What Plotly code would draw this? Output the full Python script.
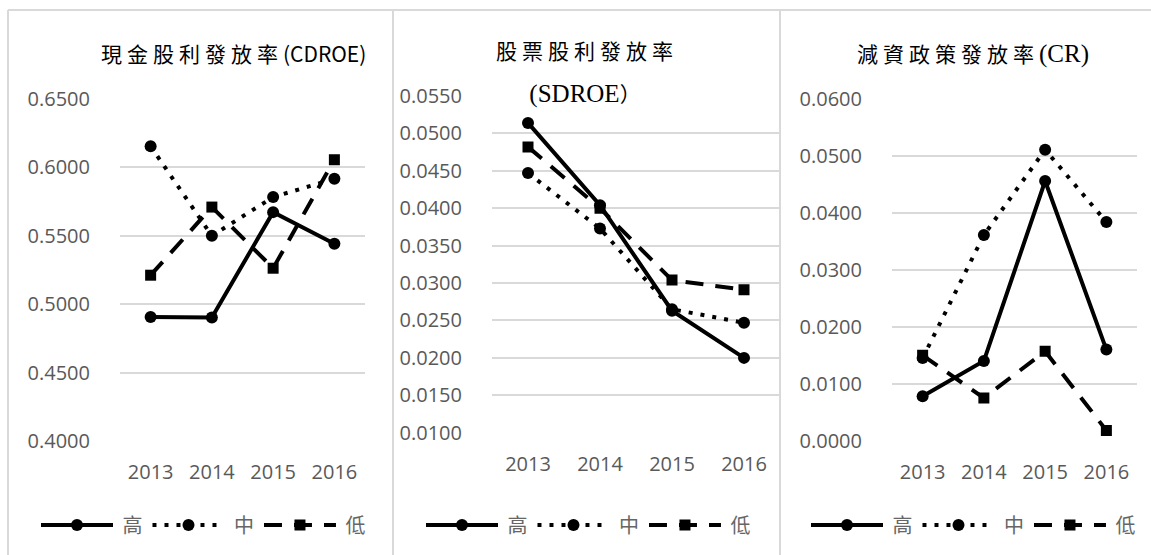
import plotly.graph_objects as go

years = ["2013", "2014", "2015", "2016"]
series_names = ["高", "中", "低"]

cdroe_high = [0.4907, 0.4902, 0.5673, 0.5442]
cdroe_mid = [0.6154, 0.5500, 0.5783, 0.5917]
cdroe_low = [0.5212, 0.5710, 0.5263, 0.6056]

sdroe_high = [0.0514, 0.0404, 0.0263, 0.0200]
sdroe_mid = [0.0447, 0.0373, 0.0265, 0.0247]
sdroe_low = [0.0482, 0.0400, 0.0304, 0.0291]

cr_high = [0.0078, 0.0140, 0.0456, 0.0160]
cr_mid = [0.0145, 0.0361, 0.0511, 0.0384]
cr_low = [0.0150, 0.0075, 0.0157, 0.0018]

title_cjk = ["現金股利發放率", "股票股利發放率", "減資政策發放率"]
title_latin = ["(CDROE)", "(SDROE", "(CR)"]

W, H = 1151, 555
GRID = "#d9d9d9"
TICK = "#595959"
CJK = "Noto Sans CJK TC"
NUM = "Open Sans"
SERIF = "Liberation Serif"

styles = [
    dict(dash="solid", symbol="circle", size=12),
    dict(dash="4px,8px", symbol="circle", size=12),
    dict(dash="18px,12px", symbol="square", size=11),
]

fig = go.Figure()

panels = [
    (dict(x=(120, 365), y=(99, 441)), [cdroe_high, cdroe_mid, cdroe_low], [0.40, 0.65], 0.05, "legend"),
    (dict(x=(492, 780), y=(96, 432.7)), [sdroe_high, sdroe_mid, sdroe_low], [0.01, 0.055], 0.005, "legend2"),
    (dict(x=(892, 1137), y=(99, 440.7)), [cr_high, cr_mid, cr_low], [0.0, 0.06], 0.01, "legend3"),
]

for i, (box, data, yr, dt, leg) in enumerate(panels):
    ax = "" if i == 0 else str(i + 1)
    for name, vals, st in zip(series_names, data, styles):
        fig.add_trace(go.Scatter(
            x=years, y=vals, name=" " + name, mode="lines+markers",
            line=dict(color="black", width=4, dash=st["dash"]),
            marker=dict(color="black", symbol=st["symbol"], size=st["size"]),
            xaxis="x" + ax, yaxis="y" + ax, legend=leg,
        ))
    fig.layout["xaxis" + ax] = dict(
        domain=[box["x"][0] / W, box["x"][1] / W], anchor="y" + ax,
        type="category", range=[-0.5, 3.5], showgrid=False, showline=False,
        zeroline=False, ticks="", tickfont=dict(family=NUM, size=20, color=TICK),
        ticklabelstandoff=17, automargin=False,
    )
    fig.layout["yaxis" + ax] = dict(
        domain=[1 - box["y"][1] / H, 1 - box["y"][0] / H], anchor="x" + ax,
        range=yr, dtick=dt, tick0=0, tickformat=".4f", showgrid=True,
        gridcolor=GRID, gridwidth=1.5, zeroline=False, showline=False, ticks="",
        tickfont=dict(family=NUM, size=20, color=TICK), ticklabelstandoff=29,
        automargin=False,
    )

legend_common = dict(
    orientation="h", font=dict(family=CJK, size=20, color="#666666"),
    bgcolor="rgba(0,0,0,0)", itemwidth=72, yanchor="middle", xanchor="left",
    tracegroupgap=0,
)
fig.update_layout(
    legend=dict(x=36 / W, y=1 - 525 / H, **legend_common),
    legend2=dict(x=421 / W, y=1 - 525 / H, **legend_common),
    legend3=dict(x=806 / W, y=1 - 525 / H, **legend_common),
)

# panel frames
for x0 in [8, 393, 780]:
    fig.add_shape(type="line", xref="paper", yref="paper", x0=x0 / W, x1=x0 / W,
                  y0=0, y1=1 - 10 / H, line=dict(color=GRID, width=2), layer="below")
fig.add_shape(type="line", xref="paper", yref="paper", x0=8 / W, x1=1,
              y0=1 - 10 / H, y1=1 - 10 / H, line=dict(color=GRID, width=2), layer="below")


def cjk(s):
    return f"<span style='letter-spacing:5px'>{s}</span>"


def latin(s, size):
    return f"<span style='font-family:{SERIF};font-size:{size}px'>{s}</span>"


ann = [
    (cjk(title_cjk[0]) + title_latin[0], 233, 53, None),
    (cjk(title_cjk[1]), 587, 50, None),
    (latin(title_latin[1], 25) + "）", 585, 93, 200),
    (cjk(title_cjk[2]) + latin(title_latin[2], 25), 973, 53, None),
]
for text, cx, cy, wd in ann:
    kw = dict(width=wd, height=34, bgcolor="white") if wd else {}
    fig.add_annotation(text=text, xref="paper", yref="paper", x=cx / W, y=1 - cy / H,
                       xanchor="center", yanchor="middle", showarrow=False,
                       font=dict(family=CJK, size=21, color="black"), **kw)

fig.update_layout(
    width=W, height=H, margin=dict(l=0, r=0, t=0, b=0, autoexpand=False),
    paper_bgcolor="white", plot_bgcolor="white", showlegend=True,
)

fig.write_html("out.html", config={"displayModeBar": False},
               post_script="document.body.style.margin='0';document.body.style.overflow='hidden';")
